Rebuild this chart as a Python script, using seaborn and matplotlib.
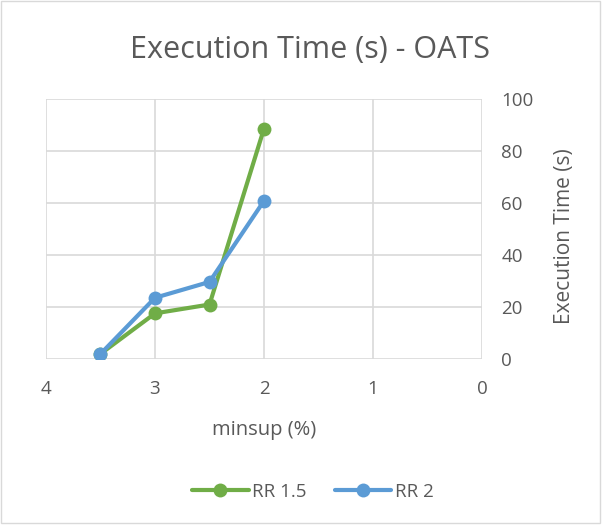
import pandas as pd
import seaborn as sns
import matplotlib
matplotlib.use("Agg")
import matplotlib.pyplot as plt
from matplotlib.patches import Rectangle

minsup = [3.5, 3, 2.5, 2]
rr15 = [2.0, 17.6, 21.0, 88.7]
rr2 = [2.0, 23.6, 29.7, 60.9]
series_names = ["RR 1.5", "RR 2"]

df = pd.DataFrame({
    "minsup": minsup * 2,
    "time": rr15 + rr2,
    "series": [series_names[0]] * 4 + [series_names[1]] * 4,
})

sns.set_theme(style="white")
plt.rcParams['font.family'] = ['Open Sans', 'DejaVu Sans']
txt = "#595959"
grid = "#d9d9d9"

fig = plt.figure(figsize=(6.02, 5.25), dpi=100)
ax = fig.add_axes([0.0764, 0.316, 0.7243, 0.495])

palette = {"RR 1.5": "#70ad47", "RR 2": "#5b9bd5"}
sns.lineplot(data=df, x="minsup", y="time", hue="series", palette=palette,
             marker="o", markersize=10, markeredgewidth=0, linewidth=3,
             ax=ax, legend=True, zorder=3)

ax.set_xlim(4, 0)
ax.set_ylim(0, 100)
ax.set_xticks([4, 3, 2, 1, 0])
ax.set_yticks([0, 20, 40, 60, 80, 100])
ax.yaxis.tick_right()
ax.yaxis.set_label_position("right")
ax.grid(True, color=grid, linewidth=1.2)
for s in ax.spines.values():
    s.set_visible(False)
ax.tick_params(axis="both", length=0, labelsize=13.5, colors=txt, pad=15)
ax.tick_params(axis="y", pad=14)
ax.set_xlabel("minsup (%)", fontsize=14.5, color=txt, labelpad=16)
ax.set_ylabel("")
fig.text(0.937, 0.55, "Execution Time (s)", rotation=90, fontsize=15, color=txt,
         ha="center", va="center")
fig.text(0.515, 0.905, "Execution Time (s) - OATS", fontsize=22, color=txt,
         ha="center", va="center")

handles, labels = ax.get_legend_handles_labels()
ax.legend_.remove()
fig.legend(handles, labels, loc="center", bbox_to_anchor=(0.52, 0.063), ncol=2,
           frameon=False, fontsize=13.5, labelcolor=txt, handlelength=3,
           handletextpad=0.2, columnspacing=1.5)

fig.patches.append(Rectangle((0.001, 0.003), 0.996, 0.995, transform=fig.transFigure,
                             fill=False, edgecolor=grid, linewidth=1))

fig.savefig("out.png", dpi=100)
